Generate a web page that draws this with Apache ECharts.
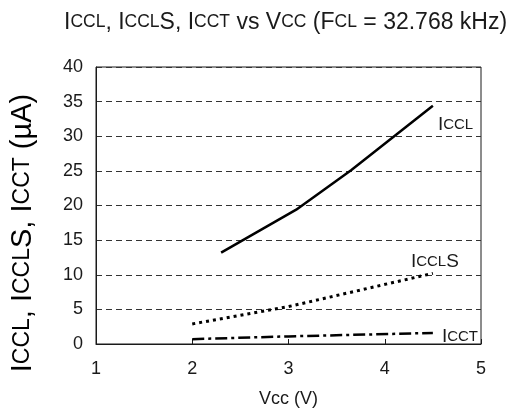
<!DOCTYPE html>
<html>
<head>
<meta charset="utf-8">
<script src="https://cdn.jsdelivr.net/npm/echarts@6/dist/echarts.min.js"></script>
<style>
  html, body { margin: 0; padding: 0; background: #fff; }
  #chart { width: 523px; height: 413px; }
</style>
</head>
<body>
<div id="chart"></div>
<script>
// Supply current vs supply voltage, 32.768 kHz clock
const xTicks = [1, 2, 3, 4, 5];
const yTicks = [0, 5, 10, 15, 20, 25, 30, 35, 40];

const vccCCL = [2.3, 3.08, 3.65, 4.5];
const iccl   = [13.2, 19.4, 25.1, 34.4];

const vccCCLS = [2.0, 3.0, 4.5];
const icclS   = [2.9, 5.4, 10.2];

const vccCCT = [2.0, 3.0, 4.5];
const icct   = [0.7, 1.1, 1.6];

const FONT = '"Liberation Sans", Arial, sans-serif';
const INK = '#1a1a1a';

function pairs(xs, ys) { return xs.map((x, i) => [x, ys[i]]); }

// "I" at full size followed by small-cap letters
function richLabel(big, small) {
  const base = { fontFamily: FONT, color: INK, fontWeight: 'normal' };
  return { b: Object.assign({ fontSize: big }, base), s: Object.assign({ fontSize: small }, base) };
}

const chart = echarts.init(document.getElementById('chart'), null, { renderer: 'canvas' });

chart.setOption({
  animation: false,
  backgroundColor: '#fff',
  title: {
    text: '{b|I}{s|CCL}{b|, I}{s|CCL}{b|S, I}{s|CCT}{b| vs V}{s|CC}{b| (F}{s|CL}{b| = 32.768 kHz)}',
    left: 59,
    top: 6,
    textStyle: { fontWeight: 'normal', rich: richLabel(23, 17.5) }
  },
  grid: {
    left: 96, right: 42, top: 67, bottom: 64,
    show: true, borderColor: INK, borderWidth: 1, containLabel: false
  },
  xAxis: {
    type: 'value',
    min: xTicks[0], max: xTicks[xTicks.length - 1], interval: 1,
    name: 'Vcc (V)',
    nameLocation: 'middle',
    nameGap: 46,
    nameTextStyle: { fontSize: 18, fontFamily: FONT, color: INK },
    axisLine: { show: true, lineStyle: { color: INK, width: 1 } },
    axisTick: { show: true, inside: true, length: 5, lineStyle: { color: INK } },
    axisLabel: { fontSize: 18, fontFamily: FONT, color: INK, margin: 16 },
    splitLine: { show: false }
  },
  yAxis: {
    type: 'value',
    min: yTicks[0], max: yTicks[yTicks.length - 1], interval: 5,
    axisLine: { show: true, lineStyle: { color: INK, width: 1 } },
    axisTick: { show: false },
    axisLabel: { fontSize: 18, fontFamily: FONT, color: INK, margin: 13 },
    splitLine: { show: true, lineStyle: { color: '#333', width: 1, type: [6, 4] } }
  },
  graphic: [{
    type: 'text',
    x: 23, y: 233,
    rotation: Math.PI / 2,
    style: {
      text: '{b|I}{s|CCL}{b|, I}{s|CCL}{b|S, I}{s|CCT}{b| (µA)}',
      rich: richLabel(29, 23),
      align: 'center',
      verticalAlign: 'middle'
    }
  }],
  series: [
    {
      name: 'ICCL', type: 'line', data: pairs(vccCCL, iccl),
      symbol: 'none', silent: true,
      lineStyle: { color: '#000', width: 2.5, type: 'solid' },
      endLabel: {
        show: true, formatter: '{b|I}{s|CCL}', offset: [-3, 19],
        rich: richLabel(19, 15)
      }
    },
    {
      name: 'ICCLS', type: 'line', data: pairs(vccCCLS, icclS),
      symbol: 'none', silent: true,
      lineStyle: { color: '#000', width: 3, type: [3, 4] },
      endLabel: {
        show: true, formatter: '{b|I}{s|CCL}{b|S}', offset: [-30, -12],
        rich: richLabel(19, 15)
      }
    },
    {
      name: 'ICCT', type: 'line', data: pairs(vccCCT, icct),
      symbol: 'none', silent: true,
      lineStyle: { color: '#000', width: 2.5, type: [12, 4, 3, 4] },
      endLabel: {
        show: true, formatter: '{b|I}{s|CCT}', offset: [1, 4],
        rich: richLabel(19, 15)
      }
    }
  ]
});
</script>
</body>
</html>
